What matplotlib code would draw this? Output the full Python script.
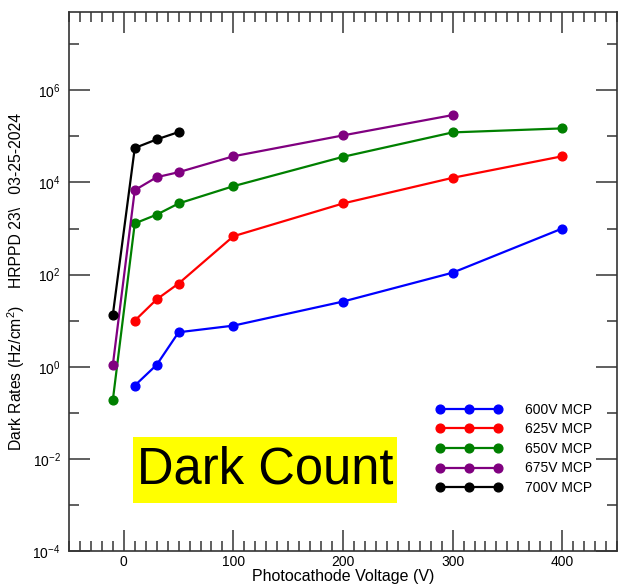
import matplotlib
matplotlib.use("Agg")
import matplotlib.pyplot as plt
from matplotlib.ticker import FixedLocator, MultipleLocator, LogFormatterSciNotation
from matplotlib.patches import Rectangle

# ── Dark rates per MCP voltage vs photocathode voltage ──────────────────────
v_short = [-10, 10, 30, 50]
v_600 = [10, 30, 50, 100, 200, 300, 400]
v_625 = [10, 30, 50, 100, 200, 300, 400]
v_650 = [-10, 10, 30, 50, 100, 200, 300, 400]
v_675 = [-10, 10, 30, 50, 100, 200, 300]

rate_600 = [0.39, 1.1, 5.6, 7.8, 26, 110, 1000]
rate_625 = [10, 29, 64, 680, 3500, 1.26e4, 3.7e4]
rate_650 = [0.19, 1290, 2000, 3500, 8300, 3.6e4, 1.22e5, 1.49e5]
rate_675 = [1.1, 6800, 1.3e4, 1.67e4, 3.7e4, 1.05e5, 2.9e5]
rate_700 = [13.5, 5.6e4, 8.6e4, 1.24e5]

series = [
    (v_600, rate_600, "#0000FF", "600V MCP"),
    (v_625, rate_625, "#FF0000", "625V MCP"),
    (v_650, rate_650, "#008000", "650V MCP"),
    (v_675, rate_675, "#800080", "675V MCP"),
    (v_short, rate_700, "#000000", "700V MCP"),
]

plt.rcParams.update({
    "font.family": ["Liberation Sans", "DejaVu Sans"],
    "mathtext.default": "regular",
    "font.size": 10,
})

fig = plt.figure(figsize=(6.2, 5.87), dpi=100)
ax = fig.add_axes([0.1113, 0.0613, 0.8839, 0.9182])

for xs, ys, col, lab in series:
    ax.plot(xs, ys, color=col, lw=1.6, marker="o", ms=6.3, label=lab)

ax.set_yscale("log")
ax.set_xlim(-50, 450)
ax.set_ylim(1e-4, 5e7)

ax.yaxis.set_major_locator(FixedLocator([1e-4, 1e-2, 1e0, 1e2, 1e4, 1e6]))
ax.yaxis.set_minor_locator(FixedLocator([1e-3, 1e-1, 1e1, 1e3, 1e5, 1e7]))
ax.yaxis.set_major_formatter(LogFormatterSciNotation())
ax.yaxis.set_minor_formatter(plt.NullFormatter())
ax.xaxis.set_major_locator(FixedLocator([0, 100, 200, 300, 400]))
ax.xaxis.set_minor_locator(MultipleLocator(10))

TICK = "#444444"
ax.tick_params(which="both", direction="in", top=True, right=True,
               color=TICK, width=1.2, labelsize=10)
ax.tick_params(which="major", length=15)
ax.tick_params(which="minor", length=7.5)
ax.tick_params(axis="y", pad=6)
ax.tick_params(axis="x", pad=3)
for sp in ax.spines.values():
    sp.set_color("#333333")
    sp.set_linewidth(1.2)

ax.set_xlabel("Photocathode Voltage (V)", fontsize=11.5, labelpad=0)

# rotated y-axis captions
fig.text(0.026, (587 - 378) / 587, "Dark Rates (Hz/cm$^2$)",
         rotation=90, ha="center", va="center", fontsize=11.3)
fig.text(0.026, (587 - 200) / 587, "HRPPD 23\\   03-25-2024",
         rotation=90, ha="center", va="center", fontsize=11.3)

ax.legend(loc="upper left", bbox_to_anchor=(0.670, 0.275), frameon=False,
          numpoints=3, handlelength=4.75, handletextpad=1.65,
          labelspacing=0.4, borderpad=0, borderaxespad=0, fontsize=10)

# highlighted caption box
fig.patches.append(Rectangle((133 / 620, (587 - 503) / 587), 264 / 620, 66 / 587,
                             transform=fig.transFigure, facecolor="#FFFF00",
                             edgecolor="none", zorder=3))
fig.text(265 / 620, (587 - 470) / 587, "Dark Count", fontsize=36.5,
         ha="center", va="center", color="black", zorder=4)

fig.savefig("out.png", dpi=100)
